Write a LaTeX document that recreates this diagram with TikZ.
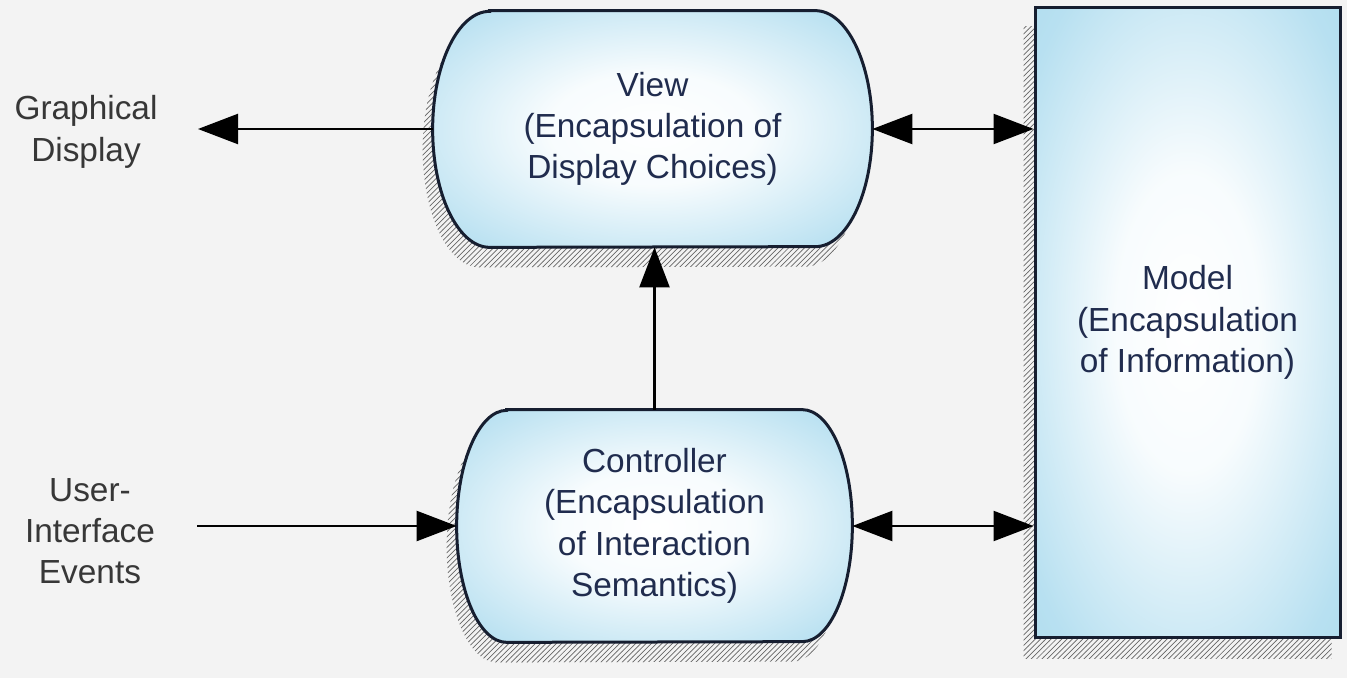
\documentclass[tikz,border=0pt]{standalone}
\usepackage{fontspec}
\setmainfont{Liberation Sans}
\usetikzlibrary{calc,patterns,arrows.meta,backgrounds}

\definecolor{paper}{RGB}{243,243,243}
\definecolor{boxline}{RGB}{22,30,48}
\definecolor{boxtext}{RGB}{32,44,78}
\definecolor{boxblue}{RGB}{160,214,236}
\definecolor{labeltext}{RGB}{55,55,55}

\pgfdeclareradialshading{boxglow}{\pgfpoint{0bp}{0bp}}{color(0bp)=(white); color(12bp)=(white!92!boxblue); color(32bp)=(boxblue!75); color(50bp)=(boxblue)}

\tikzset{
	boxtxt/.style={align=center, text=boxtext, font=\fontsize{19}{23.5}\selectfont, inner sep=0pt},
	lbl/.style={align=center, text=labeltext, font=\fontsize{19}{23.5}\selectfont},
	flow/.style={line width=0.045cm, -{Triangle[length=0.8cm,width=0.6cm]}},
	twoway/.style={line width=0.045cm, {Triangle[length=0.8cm,width=0.6cm]}-{Triangle[length=0.8cm,width=0.6cm]}},
	boxedge/.style={draw=boxline, line width=0.06cm, shade, shading=boxglow},
	dropshade/.style={draw=none, pattern=north east lines, pattern color=black!60},
}

% rectangle with bulging left and right sides
\def\barrel[#1](#2)(#3:#4){\path[#1] ([xshift=#3]#2.north west) -- ([xshift=-#3]#2.north east) arc[start angle=90, end angle=-90, x radius=#3, y radius=#4] -- ([xshift=#3]#2.south west) arc[start angle=270, end angle=90, x radius=#3, y radius=#4] -- cycle;}

\begin{document}
\begin{tikzpicture}
			%%%%% START %%%%%
			
			\useasboundingbox (0, 0) rectangle (26.94, 13.56);
			
			\node[boxtxt, minimum width=8.78cm, minimum height=4.72cm] (view) at (13.05, 10.98) {View\\(Encapsulation of\\Display Choices)};
			\node[boxtxt, minimum width=7.9cm, minimum height=4.64cm] (ctrl) at (13.09, 3.04) {Controller\\(Encapsulation\\of Interaction\\Semantics)};
			\node[boxtxt, boxedge, minimum width=6.1cm, minimum height=12.58cm] (model) at (23.75, 7.11) {Model\\(Encapsulation\\of Information)};
			
			\node[lbl] (display) at (1.72, 10.92) {Graphical\\Display};
			\node[lbl] (events) at (1.8, 2.94) {User-\\Interface\\Events};
			\coordinate (displaytip) at (3.96, 10.98);
			\coordinate (eventsstart) at (3.94, 3.04);
			
			\begin{scope}[on background layer]
				\fill[paper] (0, 0) rectangle (26.94, 13.56);
				\begin{scope}[transform canvas={shift={(-0.2, -0.4)}}]
					\barrel[dropshade](view)(1.14cm:2.36cm)
					\barrel[dropshade](ctrl)(1cm:2.32cm)
					\path[dropshade] (model.north west) rectangle (model.south east);
				\end{scope}
				\barrel[boxedge](view)(1.14cm:2.36cm)
				\barrel[boxedge](ctrl)(1cm:2.32cm)
			\end{scope}
			
			\draw[flow] (view.west) -- (view.west -| displaytip);
			\draw[flow] (eventsstart) -- (eventsstart -| ctrl.west);
			\draw[flow] (ctrl.north) -- (ctrl.north |- view.south);
			\draw[twoway] (view.east) -- (view.east -| model.west);
			\draw[twoway] (ctrl.east) -- (ctrl.east -| model.west);
			
			%%%%% END %%%%%
\end{tikzpicture}
\end{document}
